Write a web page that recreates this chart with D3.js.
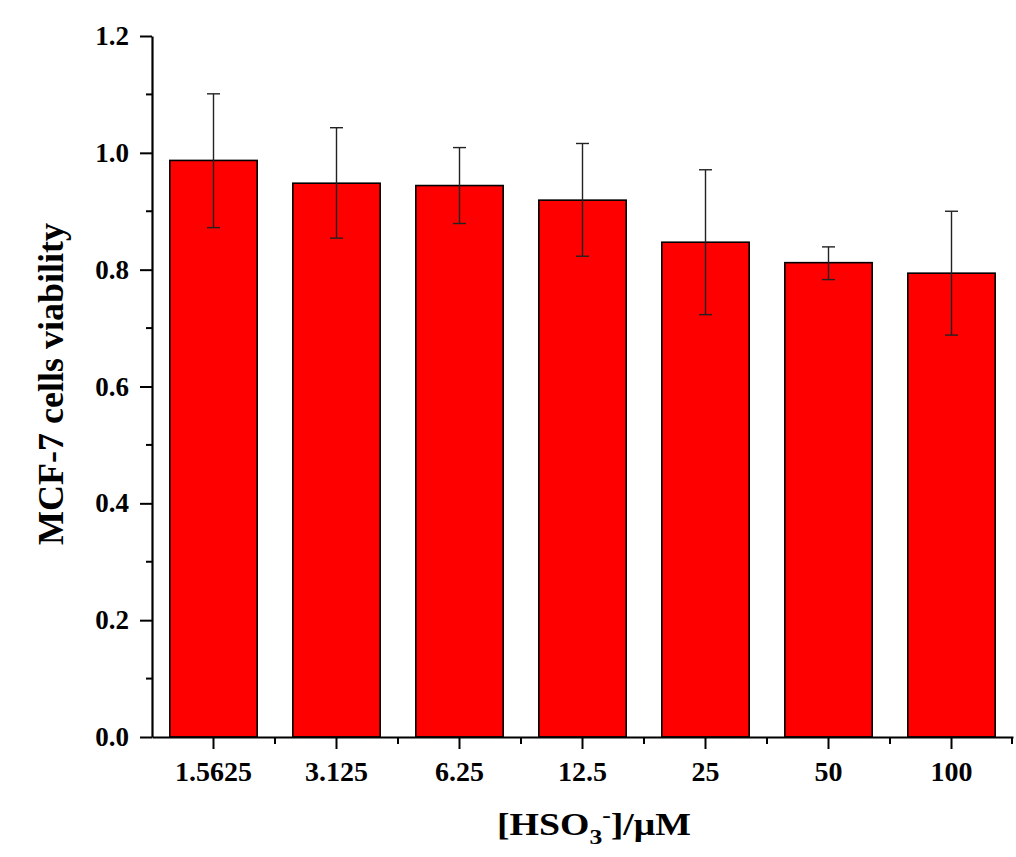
<!DOCTYPE html>
<html>
<head>
<meta charset="utf-8">
<script src="https://cdn.jsdelivr.net/npm/d3@7"></script>
<style>
  body { margin: 0; background: #fff; }
  text { font-family: "Liberation Serif", "Times New Roman", serif; font-weight: bold; }
</style>
</head>
<body>
<script>
// data
const concentrations = ["1.5625", "3.125", "6.25", "12.5", "25", "50", "100"]
const viability = [0.987, 0.948, 0.944, 0.919, 0.847, 0.812, 0.794]
const errUpper = [1.101, 1.043, 1.009, 1.016, 0.971, 0.839, 0.900]
const errLower = [0.872, 0.854, 0.879, 0.823, 0.723, 0.783, 0.688]
const yTicks = [0, 0.2, 0.4, 0.6, 0.8, 1.0, 1.2]

const width = 1016
const height = 857
const margin = ({top: 36, right: 3, bottom: 120, left: 152})

const svg = d3.select("body").append("svg")
  .attr("width", width)
  .attr("height", height)

const x = d3.scaleBand()
  .domain(concentrations)
  .range([margin.left, width - margin.right])
  .paddingInner(0.29)
  .paddingOuter(0.145)

const y = d3.scaleLinear()
  .domain([0, 1.2])
  .range([height - margin.bottom, margin.top])

// bars
svg.append("g")
  .selectAll("rect")
  .data(viability)
  .join("rect")
  .attr("x", (d, i) => x(concentrations[i]))
  .attr("y", d => y(d))
  .attr("width", x.bandwidth())
  .attr("height", d => y(0) - y(d))
  .attr("fill", "#ff0000")
  .attr("stroke", "#000")
  .attr("stroke-width", 1.6)

// error bars
const eb = svg.append("g")
  .attr("stroke", "#222")
  .attr("stroke-width", 1.4)
concentrations.forEach((c, i) => {
  const cx = x(c) + x.bandwidth() / 2
  eb.append("line")
    .attr("x1", cx).attr("x2", cx)
    .attr("y1", y(errUpper[i])).attr("y2", y(errLower[i]))
  eb.append("line")
    .attr("x1", cx - 6.5).attr("x2", cx + 6.5)
    .attr("y1", y(errUpper[i])).attr("y2", y(errUpper[i]))
  eb.append("line")
    .attr("x1", cx - 6.5).attr("x2", cx + 6.5)
    .attr("y1", y(errLower[i])).attr("y2", y(errLower[i]))
})

// y axis
const yAxis = svg.append("g")
  .attr("transform", `translate(${margin.left},0)`)
  .call(d3.axisLeft(y).tickValues(yTicks).tickFormat(d3.format(".1f")).tickSize(12).tickSizeOuter(0).tickPadding(11))
yAxis.select(".domain").attr("stroke-width", 2.2)
yAxis.selectAll(".tick line").attr("stroke-width", 2)
yAxis.selectAll("text").style("font-size", "27px").attr("fill", "#000")
  .style("font-family", '"Liberation Serif", serif').style("font-weight", "bold")

// y minor ticks
const yMinor = d3.range(0.1, 1.2, 0.2)
svg.append("g")
  .selectAll("line")
  .data(yMinor)
  .join("line")
  .attr("x1", margin.left - 6).attr("x2", margin.left)
  .attr("y1", d => y(d)).attr("y2", d => y(d))
  .attr("stroke", "#000").attr("stroke-width", 2)

// x axis
const xAxis = svg.append("g")
  .attr("transform", `translate(0,${y(0)})`)
  .call(d3.axisBottom(x).tickSize(12).tickSizeOuter(0).tickPadding(12))
xAxis.select(".domain").attr("stroke-width", 2)
xAxis.selectAll(".tick line").attr("stroke-width", 2)
xAxis.selectAll("text").style("font-size", "28px").attr("fill", "#000")
  .style("font-family", '"Liberation Serif", serif').style("font-weight", "bold")

// x minor ticks at band boundaries
const bounds = concentrations.map(c => x(c) - x.step() * x.paddingInner() / 2).slice(1)
bounds.push(width - margin.right - 1)
svg.append("g")
  .selectAll("line")
  .data(bounds)
  .join("line")
  .attr("x1", d => d).attr("x2", d => d)
  .attr("y1", y(0)).attr("y2", y(0) + 7)
  .attr("stroke", "#000").attr("stroke-width", 2)

// axis titles
const xTitle = svg.append("text")
  .attr("transform", "translate(594,835) scale(1.22,1)")
  .attr("text-anchor", "middle")
  .style("font-size", "31px")
xTitle.append("tspan").text("[HSO")
xTitle.append("tspan").text("3").attr("dy", 9).style("font-size", "21px")
xTitle.append("tspan").text("-").attr("dy", -22).style("font-size", "21px")
xTitle.append("tspan").text("]/μM").attr("dy", 13)

svg.append("text")
  .attr("transform", "translate(63,384) rotate(-90)")
  .attr("text-anchor", "middle")
  .style("font-size", "36px")
  .text("MCF-7 cells viability")
</script>
</body>
</html>
